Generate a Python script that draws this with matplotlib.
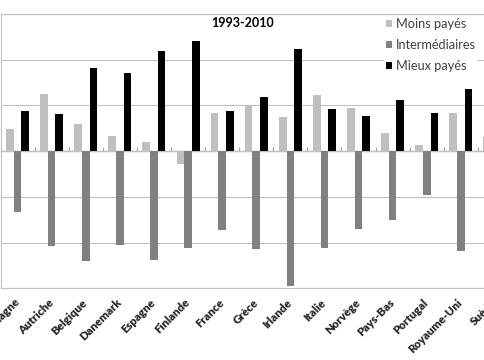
import matplotlib
matplotlib.use("Agg")
import matplotlib.pyplot as plt
import numpy as np

# Variation de l'emploi par niveau de salaire, 1993-2010 (points de %)
pays = ["Allemagne", "Autriche", "Belgique", "Danemark", "Espagne", "Finlande",
        "France", "Grèce", "Irlande", "Italie", "Norvège", "Pays-Bas",
        "Portugal", "Royaume-Uni", "Suède"]
moins_payes = [2.4, 6.3, 3.0, 1.7, 1.0, -1.4, 4.2, 4.9, 3.7, 6.1, 4.7, 2.0, 0.7, 4.2, 1.5]
intermediaires = [-6.7, -10.4, -12.0, -10.3, -11.9, -10.6, -8.6, -10.7, -14.8, -10.6,
                  -8.5, -7.5, -4.8, -10.9, -8.0]
mieux_payes = [4.4, 4.1, 9.1, 8.6, 11.0, 12.1, 4.4, 5.9, 11.2, 4.6, 3.8, 5.6, 4.2, 6.8, 6.5]
titre = "1993-2010"

plt.rcParams['font.family'] = ['Lato', 'DejaVu Sans']

W, H = 485, 360
fig = plt.figure(figsize=(W / 100, H / 100), dpi=100)

# the plot area runs past the right edge of the picture (cropped chart)
n = len(pays)
cat_px = 34.1
ax = fig.add_axes([0.5 / W, (H - 288.3) / H, n * cat_px / W, (288.3 - 14) / H])

x = np.arange(n)
bw = 0.225
ax.bar(x - bw, moins_payes, bw, color='#bfbfbf', label='Moins payés', zorder=2)
ax.bar(x, intermediaires, bw, color='#808080', label='Intermédiaires', zorder=2)
ax.bar(x + bw, mieux_payes, bw, color='#000000', label='Mieux payés', zorder=2)

ax.set_xlim(-0.5, n - 0.5)
ax.set_ylim(-15, 15)
ax.set_yticks(np.arange(-15, 16, 5))
ax.tick_params(axis='y', length=0, labelleft=False)
ax.yaxis.grid(True, color='#c0c0c0', linewidth=0.8)
ax.set_axisbelow(True)
for s in ax.spines.values():
    s.set_color('#c0c0c0')
    s.set_linewidth(0.8)

ax.set_xticks(x)
ax.set_xticklabels(pays, rotation=45, ha='right', va='center', rotation_mode='anchor',
                   fontsize=8.2, fontweight='heavy', color='#262626')
ax.tick_params(axis='x', length=0, pad=9)

# category axis at zero with tick marks between the groups
zero_ax = ax.secondary_xaxis(0.5)
zero_ax.set_xticks(np.arange(-0.5, n, 1), labels=[''] * (n + 1))
zero_ax.tick_params(axis='x', direction='out', length=3, width=0.8, color='#a6a6a6')
zero_ax.spines['bottom'].set_color('#a6a6a6')
zero_ax.spines['bottom'].set_linewidth(0.8)

fig.text(243 / W, 1 - 23 / H, titre, ha='center', va='center',
         fontsize=9, fontweight='bold', color='#000000')

leg = ax.legend(loc='upper left', bbox_to_anchor=(384 / W, 1 - 16 / H),
                bbox_transform=fig.transFigure, frameon=True, fancybox=False,
                edgecolor='none', facecolor='white', framealpha=1,
                borderpad=0.15, borderaxespad=0, handlelength=0.5,
                handleheight=0.5, handletextpad=0.3, labelspacing=0.72,
                fontsize=9.2)
for t in leg.get_texts():
    t.set_color('#404040')

fig.savefig('out.png', dpi=100)
